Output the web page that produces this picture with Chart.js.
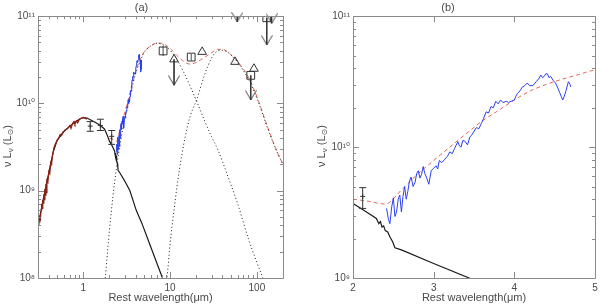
<!DOCTYPE html>
<html>
<head>
<meta charset="utf-8">
<script src="https://cdn.jsdelivr.net/npm/chart.js@4.4.1/dist/chart.umd.min.js"></script>
<style>
  html, body { margin: 0; padding: 0; background: #fff; }
  #wrap { position: relative; width: 600px; height: 307px; }
  canvas { position: absolute; top: 0; }
  #sedA { left: 0; }
  #sedB { left: 300px; }
</style>
</head>
<body>
<div id="wrap">
  <canvas id="sedA" width="300" height="307"></canvas>
  <canvas id="sedB" width="300" height="307"></canvas>
</div>
<script>
// ---- data (wavelength in micron, nu L_nu in L_sun) ----
// optical spectrum (brown)
const optLam = [0.306,0.31,0.315,0.32,0.325,0.33,0.335,0.34,0.345,0.35,0.355,0.36,0.365,0.37,0.375,0.38,0.39,0.40,0.41,0.42,0.43,0.44,0.45,0.46,0.48,0.50,0.52,0.54,0.56,0.58,0.60,0.62,0.65,0.68,0.70,0.72,0.75,0.78,0.80,0.83,0.86,0.90,0.95,1.00,1.05,1.10];
const optLum = [4.0e8,4.6e8,5.2e8,4.8e8,6.0e8,7.1e8,6.3e8,7.9e8,7.2e8,9.1e8,7.9e8,1.05e9,8.9e8,1.2e9,9.5e8,1.32e9,1.26e9,1.66e9,1.58e9,2.1e9,2.0e9,2.5e9,2.8e9,3.16e9,3.5e9,3.8e9,4.0e9,4.4e9,4.3e9,4.7e9,4.8e9,5.0e9,5.1e9,5.4e9,5.6e9,5.2e9,5.9e9,6.2e9,5.8e9,6.3e9,6.0e9,6.6e9,6.8e9,6.9e9,6.8e9,6.6e9];

// stellar model (black)
const starLam = [0.30,0.35,0.40,0.45,0.50,0.60,0.70,0.80,0.90,1.0,1.1,1.2,1.4,1.57,1.75,1.89,2.0,2.1,2.2,2.29,2.32,2.34,2.36,2.38,2.40,2.43,2.46,2.49,2.52,2.6,3.0,3.44,4.06,4.72,6.0,8.16,9.0];
const starLum = [4.0e8,8.5e8,1.6e9,2.8e9,3.8e9,4.8e9,5.5e9,6.1e9,6.6e9,6.9e9,6.8e9,6.5e9,6.0e9,5.6e9,5.1e9,4.3e9,3.7e9,3.4e9,3.1e9,2.85e9,2.6e9,2.7e9,2.45e9,2.5e9,2.3e9,2.25e9,2.05e9,1.9e9,1.7e9,1.64e9,1.29e9,1.0e9,6.0e8,4.25e8,2.25e8,1.0e8,8.2e7];

// near-IR spectrum (blue)
const irsLam = [2.416,2.44,2.457,2.48,2.50,2.52,2.54,2.56,2.58,2.60,2.62,2.64,2.66,2.68,2.70,2.72,2.745,2.77,2.79,2.81,2.83,2.85,2.87,2.89,2.91,2.94,2.97,3.00,3.03,3.05,3.07,3.10,3.14,3.17,3.20,3.23,3.26,3.30,3.32,3.34,3.36,3.38,3.42,3.45,3.47,3.50,3.53,3.56,3.59,3.62,3.65,3.68,3.71,3.74,3.77,3.80,3.83,3.86,3.90,3.93,3.96,4.00,4.02,4.04,4.07,4.10,4.13,4.16,4.19,4.23,4.27,4.30,4.33,4.35,4.37,4.39,4.41,4.43,4.45,4.48,4.51,4.54,4.56,4.58,4.60,4.62,4.64,4.67,4.69,4.70];
const irsLum = [3.4e9,2.8e9,2.6e9,3.5e9,4.1e9,2.95e9,3.2e9,4.0e9,4.3e9,3.2e9,4.2e9,5.0e9,4.0e9,4.6e9,5.5e9,5.9e9,5.0e9,5.4e9,6.3e9,6.6e9,5.8e9,6.2e9,7.1e9,6.3e9,5.9e9,5.2e9,6.6e9,6.9e9,7.2e9,6.8e9,7.9e9,7.6e9,8.1e9,8.5e9,9.2e9,8.9e9,9.8e9,1.1e10,1.02e10,1.0e10,1.12e10,1.12e10,1.04e10,1.2e10,1.23e10,1.32e10,1.41e10,1.38e10,1.51e10,1.66e10,1.86e10,1.82e10,2.04e10,2.0e10,2.24e10,2.14e10,2.29e10,2.19e10,2.24e10,2.19e10,2.24e10,2.29e10,2.45e10,2.57e10,2.69e10,2.88e10,2.95e10,3.09e10,2.95e10,2.95e10,3.16e10,3.31e10,3.55e10,3.39e10,3.47e10,3.63e10,3.63e10,3.39e10,3.47e10,3.24e10,3.09e10,2.82e10,2.63e10,2.45e10,2.29e10,2.45e10,2.69e10,3.16e10,3.02e10,2.88e10];

// total model (red dashed)
const totLam = [2.0,2.2,2.4,2.6,2.8,3.0,3.2,3.4,3.6,3.8,4.0,4.2,4.4,4.6,4.8,5.0,6.0,7.0,8.0,10,12,14,17,20,25,30,35,40,50,60,80,100,134,170,200];
const totLum = [4.0e9,3.85e9,3.67e9,4.7e9,6.2e9,7.9e9,1.0e10,1.26e10,1.58e10,1.9e10,2.29e10,2.69e10,3.02e10,3.31e10,3.59e10,3.89e10,4.57e10,4.9e10,4.9e10,4.27e10,3.55e10,3.09e10,2.82e10,2.95e10,3.39e10,3.8e10,4.17e10,4.17e10,3.63e10,3.02e10,2.0e10,1.2e10,5.25e9,2.82e9,2.0e9];

// dust components (black dotted)
const warmLam = [1.7,1.79,1.9,2.0,2.2,2.4,2.7,3.0,3.5,4.0,4.5,5.0,6.0,7.0,8.0,10,12,14,17,20.3,25,30,35.5,45,60,80,100,117,130];
const warmLum = [6.3e7,1.0e8,2.0e8,3.55e8,8.9e8,1.78e9,3.8e9,6.8e9,1.32e10,2.19e10,3.02e10,3.8e10,4.57e10,4.9e10,4.79e10,4.07e10,3.16e10,2.4e10,1.58e10,1.05e10,6.3e9,4.17e9,2.95e9,1.58e9,7.1e8,2.8e8,1.5e8,1.0e8,7.1e7];
const coldLam = [8.5,9.2,10,11,12,13.7,15,17,20.3,25,30,35,40,50,60,80,100,134,170,200];
const coldLum = [6.0e7,1.0e8,2.5e8,5.6e8,1.12e9,2.63e9,4.27e9,7.1e9,1.12e10,2.14e10,3.31e10,3.98e10,4.07e10,3.63e10,2.95e10,1.9e10,1.15e10,5.1e9,2.82e9,2.0e9];

// photometry
const nirLam = [1.2, 1.57, 2.12];
const nirLum = [5.5e9, 5.6e9, 4.2e9];
const nirLo = [4.8e9, 4.9e9, 3.4e9];
const nirHi = [6.2e9, 6.6e9, 4.9e9];
const sqLam = [8.3, 17.5, 85, 130];
const sqLum = [4.0e10, 3.4e10, 2.1e10, 9.6e10];
const sqLo = [3.5e10, 3.1e10, 2.1e10, 9.6e10];
const sqHi = [4.6e10, 3.7e10, 2.1e10, 9.6e10];
const triLam = [11.1, 23.4, 56, 92.5];
const triLum = [3.2e10, 3.9e10, 3.0e10, 2.5e10];
// upper limits: arrow from limTop down to limTip
const limLam = [11.1, 85, 130, 59.4, 148];
const limTop = [3.2e10, 2.1e10, 9.6e10, 1.0e11, 1.0e11];
const limTip = [1.62e10, 1.1e10, 4.7e10, 8.6e10, 8.3e10];

// tick labels
const aXTickVals = [1, 10, 100];
const aXTickText = ['1', '10', '100'];
const bXTickVals = [2, 3, 4, 5];
const bXTickText = ['2', '3', '4', '5'];
const yTickVals = [1e8, 1e9, 1e10, 1e11];
const yTickText = ['10⁸', '10⁹', '10¹⁰', '10¹¹'];

// ---- styling ----
const INK = '#1a1a1a';
const MARK = '#333';
const AXIS = '#8a8a8a';
const LABEL = '#4a4a4a';
const FONT = '"Liberation Sans", "DejaVu Sans", sans-serif';
Chart.defaults.font.family = FONT;
Chart.defaults.color = LABEL;

const xy = (xs, ys) => xs.map((x, i) => ({ x, y: ys[i] }));
const segs = (xs, a, b) => xs.flatMap((x, i) => [{ x, y: a[i] }, { x, y: b[i] }, { x, y: null }]);
const isDecade = (v) => Math.abs(Math.log10(v) - Math.round(Math.log10(v))) < 1e-6;
const tickText = (v, vals, texts) => {
  const i = vals.findIndex((t) => Math.abs(v / t - 1) < 1e-6);
  return i < 0 ? '' : texts[i];
};

// 1..9 x 10^n ticks for the log axes
function decadeTicks(scale) {
  const out = [];
  const lo = Math.floor(Math.log10(scale.min)), hi = Math.ceil(Math.log10(scale.max));
  for (let e = lo; e <= hi; e++) {
    for (let m = 1; m <= 9; m++) {
      const v = +(m * Math.pow(10, e)).toPrecision(6);
      if (v >= scale.min * 0.999 && v <= scale.max * 1.001) out.push({ value: v });
    }
  }
  scale.ticks = out;
}

// V-shaped arrow head, tip at the canvas centre
function arrowHead() {
  const c = document.createElement('canvas');
  c.width = 12; c.height = 20;
  const g = c.getContext('2d');
  g.strokeStyle = MARK; g.lineWidth = 0.9;
  g.beginPath(); g.moveTo(0.5, 0.5); g.lineTo(6, 10); g.lineTo(11.5, 0.5); g.stroke();
  return c;
}
const HEAD = arrowHead();

// box with inward ticks on all four sides (IDL style)
const frame = {
  id: 'frame',
  afterDatasetsDraw(chart) {
    const { ctx, chartArea: a, scales: { x, y } } = chart;
    const len = (s, v) => (s.type !== 'logarithmic' || isDecade(v)) ? 6 : 3;
    ctx.save();
    ctx.strokeStyle = AXIS; ctx.lineWidth = 1;
    ctx.beginPath();
    for (const t of x.ticks) {
      const p = Math.round(x.getPixelForValue(t.value)) + 0.5, n = len(x, t.value);
      ctx.moveTo(p, a.bottom); ctx.lineTo(p, a.bottom - n);
      ctx.moveTo(p, a.top); ctx.lineTo(p, a.top + n);
    }
    for (const t of y.ticks) {
      const p = Math.round(y.getPixelForValue(t.value)) + 0.5, n = len(y, t.value);
      ctx.moveTo(a.left, p); ctx.lineTo(a.left + n, p);
      ctx.moveTo(a.right, p); ctx.lineTo(a.right - n, p);
    }
    ctx.rect(Math.round(a.left) + 0.5, Math.round(a.top) + 0.5, Math.round(a.right - a.left), Math.round(a.bottom - a.top));
    ctx.stroke();
    ctx.restore();
  }
};

// rotated "nu L_nu (L_sun)" with real subscripts
const yTitle = {
  id: 'yTitle',
  afterDraw(chart, args, o) {
    const ctx = chart.ctx;
    const parts = [['ν L', 11, 0], ['ν', 8, 3], [' (L', 11, 0], ['⊙', 8, 3], [')', 11, 0]];
    ctx.save();
    ctx.translate(o.x, o.y);
    ctx.rotate(-Math.PI / 2);
    ctx.fillStyle = LABEL;
    ctx.textBaseline = 'middle';
    let w = 0;
    for (const [s, sz] of parts) { ctx.font = `${sz}px ${FONT}`; w += ctx.measureText(s).width; }
    let cx = -w / 2;
    for (const [s, sz, dy] of parts) {
      ctx.font = `${sz}px ${FONT}`;
      ctx.fillText(s, cx, dy);
      cx += ctx.measureText(s).width;
    }
    ctx.restore();
  }
};

const lineSet = (data, color, extra) => Object.assign({ data, borderColor: color, borderWidth: 1, pointRadius: 0, tension: 0, fill: false }, extra);
const markSet = (data, style, r, extra) => Object.assign({ data, showLine: false, pointStyle: style, pointRadius: r, borderColor: MARK, backgroundColor: 'rgba(0,0,0,0)', borderWidth: 1 }, extra);

function errorSets() {
  return [
    markSet(xy(nirLam, nirHi).concat(xy(nirLam, nirLo)), 'line', 3.5),
    lineSet(segs(nirLam, nirLo, nirHi), MARK),
    markSet(xy(nirLam, nirLum), 'cross', 2.5),
  ];
}

function panel(id, cfg) {
  return new Chart(document.getElementById(id), {
    type: 'line',
    data: { datasets: cfg.datasets },
    options: {
      responsive: false,
      animation: false,
      events: [],
      layout: { padding: { left: 0, right: cfg.padRight, top: 0, bottom: 0 } },
      plugins: {
        legend: { display: false },
        tooltip: { enabled: false },
        title: { display: true, text: cfg.title, color: LABEL, font: { size: 11, weight: 'normal' }, padding: { top: 1, bottom: 2 } },
        yTitle: { x: cfg.yTitleX, y: 146 },
      },
      scales: {
        x: {
          type: cfg.xType, min: cfg.xMin, max: cfg.xMax,
          afterBuildTicks: cfg.xType === 'logarithmic' ? decadeTicks : undefined,
          afterFit: (s) => { s.height = 29; s.paddingLeft = 0; s.paddingRight = 0; },
          grid: { display: false, drawTicks: false },
          border: { display: false },
          ticks: { autoSkip: false, maxRotation: 0, padding: 4, stepSize: 1, font: { size: 10 },
                   callback: (v) => tickText(v, cfg.xTickVals, cfg.xTickText) },
          title: { display: true, text: 'Rest wavelength(μm)', font: { size: 11 }, padding: { top: 0, bottom: 2 } },
        },
        y: {
          type: 'logarithmic', min: cfg.yMin, max: 1e11,
          afterBuildTicks: decadeTicks,
          afterFit: (s) => { s.width = cfg.yWidth; s.paddingTop = 0; s.paddingBottom = 0; },
          grid: { display: false, drawTicks: false },
          border: { display: false },
          ticks: { autoSkip: false, padding: 3, font: { size: 10 },
                   callback: (v) => tickText(v, yTickVals, yTickText) },
        },
      },
    },
    plugins: [frame, yTitle],
  });
}

// (a) full SED, log-log
panel('sedA', {
  title: '(a)', xType: 'logarithmic', xMin: 0.3, xMax: 200, yMin: 1e8,
  xTickVals: aXTickVals, xTickText: aXTickText,
  yWidth: 38, padRight: 17, yTitleX: 8,
  datasets: [
    markSet(xy(limLam, limTip), HEAD, 5, { clip: false }),
    lineSet(segs(limLam, limTop, limTip), MARK, { borderWidth: 0.9 }),
    markSet(xy(sqLam, sqLum), 'rect', 5.5),
    lineSet(segs(sqLam, sqLo, sqHi), MARK, { borderWidth: 0.9 }),
    markSet(xy(triLam, triLum), 'triangle', 5),
    ...errorSets(),
    lineSet(xy(optLam, optLum), '#8b2216', { borderWidth: 1.3 }),
    lineSet(xy(irsLam, irsLum), '#2b3ff2'),
    lineSet(xy(warmLam, warmLum), INK, { borderDash: [1, 2.5], cubicInterpolationMode: 'monotone' }),
    lineSet(xy(coldLam, coldLum), INK, { borderDash: [1, 2.5], cubicInterpolationMode: 'monotone' }),
    lineSet(xy(totLam, totLum), '#e2695a', { borderDash: [4, 3], cubicInterpolationMode: 'monotone' }),
    lineSet(xy(starLam, starLum), INK, { borderWidth: 1.2 }),
  ],
});

// (b) zoom on the 2-5 micron range
panel('sedB', {
  title: '(b)', xType: 'linear', xMin: 2, xMax: 5, yMin: 1e9,
  xTickVals: bXTickVals, xTickText: bXTickText,
  yWidth: 53, padRight: 4, yTitleX: 22,
  datasets: [
    ...errorSets(),
    lineSet(xy(irsLam, irsLum), '#2b3ff2'),
    lineSet(xy(totLam, totLum), '#e2695a', { borderDash: [4, 3], cubicInterpolationMode: 'monotone' }),
    lineSet(xy(starLam, starLum), INK, { borderWidth: 1.2 }),
  ],
});
</script>
</body>
</html>
